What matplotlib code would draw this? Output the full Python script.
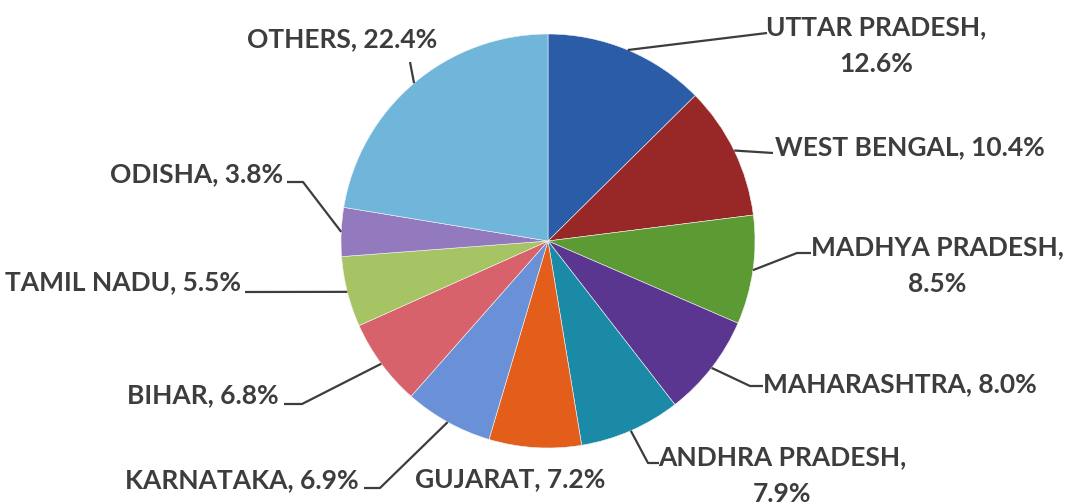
import numpy as np
import matplotlib
matplotlib.use("Agg")
import matplotlib.pyplot as plt

# state shares (%), clockwise from 12 o'clock
states = ["UTTAR PRADESH", "WEST BENGAL", "MADHYA PRADESH", "MAHARASHTRA",
          "ANDHRA PRADESH", "GUJARAT", "KARNATAKA", "BIHAR", "TAMIL NADU",
          "ODISHA", "OTHERS"]
shares = [12.6, 10.4, 8.5, 8.0, 7.9, 7.2, 6.9, 6.8, 5.5, 3.8, 22.4]
colors = ["#2B5CA8", "#982828", "#5C9A34", "#5B3690", "#1B8AA6", "#E35D1B",
          "#6A91D8", "#D8626C", "#A6C463", "#9379BD", "#6FB6DA"]
# label anchor (x, baseline y, ha, two lines?) in pixel coords
label_pos = [(876, 35, "center", True), (775, 155, "left", False),
             (937, 255, "center", True), (763, 392, "left", False),
             (782, 465, "center", True), (510, 487, "center", False),
             (359, 488, "right", False), (279, 403, "right", False),
             (241, 290, "right", False), (283, 182, "right", False),
             (342, 47, "center", False)]
# leader elbow / end points (start comes from the wedge mid angle)
leaders = [[(767, 33)], [(773, 153)], [(797, 253), (811, 253)],
           [(750, 386), (763, 386)], [(648, 463), (659, 463)], None,
           [(380, 488), (364, 488)], [(302, 404), (284, 404)],
           [(245, 292)], [(303, 182), (287, 182)], [(410, 62)]]

W, H = 1068, 504
cx, cy, r = 548, 241, 207

fig = plt.figure(figsize=(W / 100, H / 100), dpi=100)
ax = fig.add_axes([0, 0, 1, 1])

# y axis is inverted, so counterclock in data = clockwise on screen
wedges, _ = ax.pie(shares, colors=colors, startangle=-90, counterclock=True,
                   center=(cx, cy), radius=r, frame=True,
                   wedgeprops=dict(edgecolor="#f4f4f4", linewidth=0.4))
ax.set_xlim(0, W)
ax.set_ylim(H, 0)
ax.axis("off")

txt_kw = dict(family=["Lato", "DejaVu Sans"], fontweight="bold", fontsize=19,
              color="#3d3d3d", va="baseline")
for w, name, val, lp, ld in zip(wedges, states, shares, label_pos, leaders):
    x, y, ha, two = lp
    if two:
        ax.text(x, y, f"{name},", ha="center", **txt_kw)
        ax.text(x, y + 37, f"{val:.1f}%", ha="center", **txt_kw)
    else:
        ax.text(x, y, f"{name}, {val:.1f}%", ha=ha, **txt_kw)
    if ld is None:
        continue
    mid = np.deg2rad((w.theta1 + w.theta2) / 2)
    px = [cx + r * np.cos(mid)] + [p[0] for p in ld]
    py = [cy + r * np.sin(mid)] + [p[1] for p in ld]
    ax.plot(px, py, color="#3d3d3d", lw=1.6, solid_capstyle="butt")

fig.savefig("out.png", dpi=100, facecolor="white")
